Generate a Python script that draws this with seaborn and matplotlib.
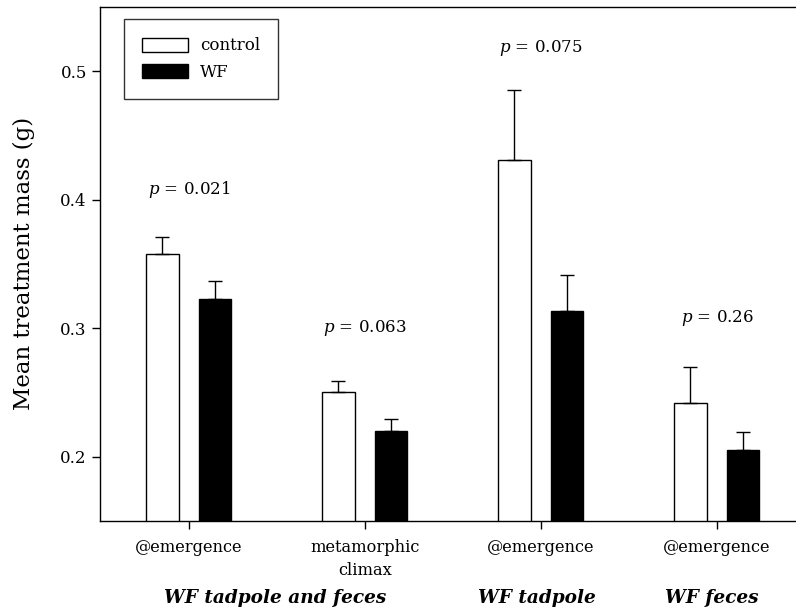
import matplotlib
matplotlib.use("Agg")
import matplotlib.pyplot as plt
import seaborn as sns
import pandas as pd
from matplotlib.patches import Patch
import matplotlib.transforms as mtransforms

categories = ["c1", "c2", "c3", "c4"]
tick_labels = ["@emergence", "metamorphic\nclimax", "@emergence", "@emergence"]
control_mean = [0.358, 0.250, 0.431, 0.242]
control_err = [0.013, 0.009, 0.054, 0.028]
wf_mean = [0.323, 0.220, 0.313, 0.205]
wf_err = [0.014, 0.009, 0.028, 0.014]
p_labels = ["0.021", "0.063", "0.075", "0.26"]
p_ypos = [0.408, 0.300, 0.518, 0.308]
group_labels = ["WF tadpole and feces", "WF tadpole", "WF feces"]
group_xpos = [0.49, 1.98, 2.97]

sns.set_style("white")
plt.rcParams["font.family"] = ["DejaVu Serif"]
plt.rcParams["mathtext.fontset"] = "dejavuserif"
plt.rcParams["text.color"] = "black"
plt.rcParams["axes.labelcolor"] = "black"
plt.rcParams["xtick.color"] = "black"
plt.rcParams["ytick.color"] = "black"

df = pd.DataFrame({
    "cat": categories * 2,
    "treat": ["control"] * 4 + ["WF"] * 4,
    "mass": control_mean + wf_mean,
})

fig = plt.figure(figsize=(7.96, 6.11), dpi=100)
ax = fig.add_axes([0.1256, 0.1473, 0.8744, 0.8417])

sns.barplot(data=df, x="cat", y="mass", hue="treat", order=categories,
            hue_order=["control", "WF"], palette={"control": "white", "WF": "black"},
            width=0.6, gap=0.39, edgecolor="black", linewidth=1.0,
            errorbar=None, legend=False, ax=ax)

errs = control_err + wf_err
means = control_mean + wf_mean
for patch, m, e in zip(ax.patches, means, errs):
    xc = patch.get_x() + patch.get_width() / 2
    ax.errorbar([xc], [m], yerr=[[0], [e]], fmt="none", ecolor="black",
                elinewidth=1.0, capsize=4.7, capthick=1.0, zorder=1)

for i, (pl, py) in enumerate(zip(p_labels, p_ypos)):
    ax.text(i, py, r"$\it{p}$" + " = " + pl, ha="center", va="center", fontsize=12,
            color="black")

ax.set_ylim(0.15, 0.55)
ax.set_xlim(-0.505, 3.45)
ax.set_yticks([0.2, 0.3, 0.4, 0.5])
ax.set_yticklabels(["0.2", "0.3", "0.4", "0.5"], fontsize=12)
ax.set_xticks(range(len(categories)))
ax.set_xticklabels(tick_labels, fontsize=11.7, linespacing=1.45)
ax.set_xlabel("")
ax.set_ylabel("Mean treatment mass (g)", fontsize=16.5, labelpad=18)
ax.tick_params(axis="x", pad=7)
ax.tick_params(axis="both", direction="out", length=6, width=1.0, color="black",
               bottom=True, left=True, labelcolor="black")
for s in ["left", "top", "bottom"]:
    ax.spines[s].set_visible(True)
    ax.spines[s].set_color("black")
    ax.spines[s].set_linewidth(1.0)
ax.spines["right"].set_visible(False)

trans = mtransforms.blended_transform_factory(ax.transData, ax.transAxes)
for gl, gx in zip(group_labels, group_xpos):
    ax.text(gx, -0.15, gl, transform=trans, ha="center", va="center",
            fontsize=13.3, fontweight="bold", fontstyle="italic", color="black")

handles = [Patch(facecolor="white", edgecolor="black", label="control"),
           Patch(facecolor="black", edgecolor="black", label="WF")]
leg = ax.legend(handles=handles, loc="upper left", bbox_to_anchor=(0.0345, 0.976),
                frameon=True, fancybox=False, edgecolor="black", fontsize=12,
                handlelength=2.75, handleheight=0.9, borderpad=1.1, labelspacing=0.55,
                handletextpad=0.7, borderaxespad=0)
leg.get_frame().set_linewidth(1.0)
for t in leg.get_texts():
    t.set_color("black")

fig.savefig("out.png", dpi=100)
